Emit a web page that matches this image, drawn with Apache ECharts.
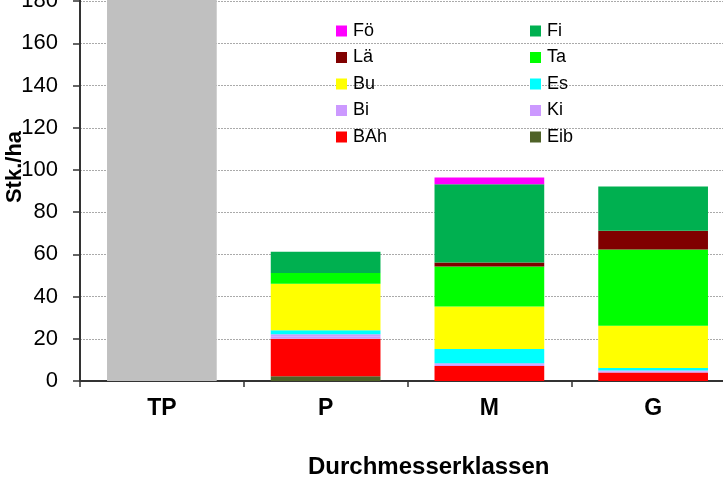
<!DOCTYPE html>
<html>
<head>
<meta charset="utf-8">
<script src="https://cdn.jsdelivr.net/npm/echarts@6/dist/echarts.min.js"></script>
<style>
    html, body { margin: 0; padding: 0; background: #fff; }
    #chart { width: 723px; height: 477px; }
</style>
</head>
<body>
<div id="chart"></div>
<script type="text/javascript">
    // Durchmesserklassen
    var categories = ['TP', 'P', 'M', 'G'];
    // Stk./ha je Baumart (gestapelt, von unten nach oben)
    var tp  = [230, 0, 0, 0];
    var eib = [0, 2.2, 0, 0];
    var bah = [0, 17.8, 7.1, 4.0];
    var ki  = [0, 1.0, 0.6, 0.5];
    var bi  = [0, 1.1, 0.7, 0.5];
    var es  = [0, 2.0, 6.8, 1.2];
    var bu  = [0, 22.0, 20.1, 20.0];
    var ta  = [0, 5.1, 19.0, 36.1];
    var lae = [0, 0, 1.9, 8.9];
    var fi  = [0, 10.0, 37.0, 21.0];
    var foe = [0, 0, 3.3, 0];

    var legendLeft = ['Fö', 'Lä', 'Bu', 'Bi', 'BAh'];
    var legendRight = ['Fi', 'Ta', 'Es', 'Ki', 'Eib'];

    var font = "'Liberation Sans', Arial, sans-serif";

    function bar(name, data, color) {
        return {
            name: name,
            type: 'bar',
            stack: 'a',
            barCategoryGap: '33%',
            data: data,
            itemStyle: { color: color },
            emphasis: { disabled: true }
        };
    }

    var legendBase = {
        orient: 'vertical',
        top: 22,
        padding: 0,
        itemWidth: 11,
        itemHeight: 11,
        itemGap: 8.5,
        icon: 'rect',
        selectedMode: false,
        textStyle: { fontFamily: font, fontSize: 18, color: '#000', lineHeight: 18, padding: [0, 0, 0, 1] }
    };

    var chart = echarts.init(document.getElementById('chart'));
    chart.setOption({
        animation: false,
        textStyle: { fontFamily: font },
        grid: { left: 80, right: -12, top: -41, bottom: 96, outerBoundsMode: 'none', containLabel: false },
        legend: [
            Object.assign({}, legendBase, { left: 336, data: legendLeft }),
            Object.assign({}, legendBase, { left: 530, data: legendRight })
        ],
        title: {
            text: 'Durchmesserklassen',
            left: 303,
            top: 450,
            textStyle: { fontFamily: font, fontSize: 24, fontWeight: 'bold', color: '#000' }
        },
        xAxis: {
            type: 'category',
            data: categories,
            axisLine: { lineStyle: { color: '#333', width: 2 } },
            axisTick: { show: true, length: 6, lineStyle: { color: '#333', width: 1.5 } },
            axisLabel: { margin: 16, fontSize: 23, fontWeight: 'bold', color: '#000', fontFamily: font },
            splitLine: { show: false }
        },
        yAxis: {
            type: 'value',
            min: 0,
            max: 200,
            interval: 20,
            name: 'Stk./ha',
            nameLocation: 'middle',
            nameRotate: 90,
            nameGap: 54,
            nameMoveOverlap: false,
            nameTextStyle: { fontSize: 22, fontWeight: 'bold', color: '#000', fontFamily: font, padding: [0, 0, 0, 6] },
            axisLine: { show: true, lineStyle: { color: '#333', width: 2 } },
            axisTick: { show: true, length: 7, lineStyle: { color: '#333', width: 1.5 } },
            axisLabel: { margin: 22, fontSize: 22, color: '#000', fontFamily: font },
            splitLine: { show: true, lineStyle: { color: '#aaa', type: [2, 1], width: 1 } }
        },
        series: [
            bar('TP', tp, '#c0c0c0'),
            bar('Eib', eib, '#4f6228'),
            bar('BAh', bah, '#ff0000'),
            bar('Ki', ki, '#cc99ff'),
            bar('Bi', bi, '#cc99ff'),
            bar('Es', es, '#00ffff'),
            bar('Bu', bu, '#ffff00'),
            bar('Ta', ta, '#00ff00'),
            bar('Lä', lae, '#800000'),
            bar('Fi', fi, '#00b050'),
            bar('Fö', foe, '#ff00ff')
        ]
    });
</script>
</body>
</html>
